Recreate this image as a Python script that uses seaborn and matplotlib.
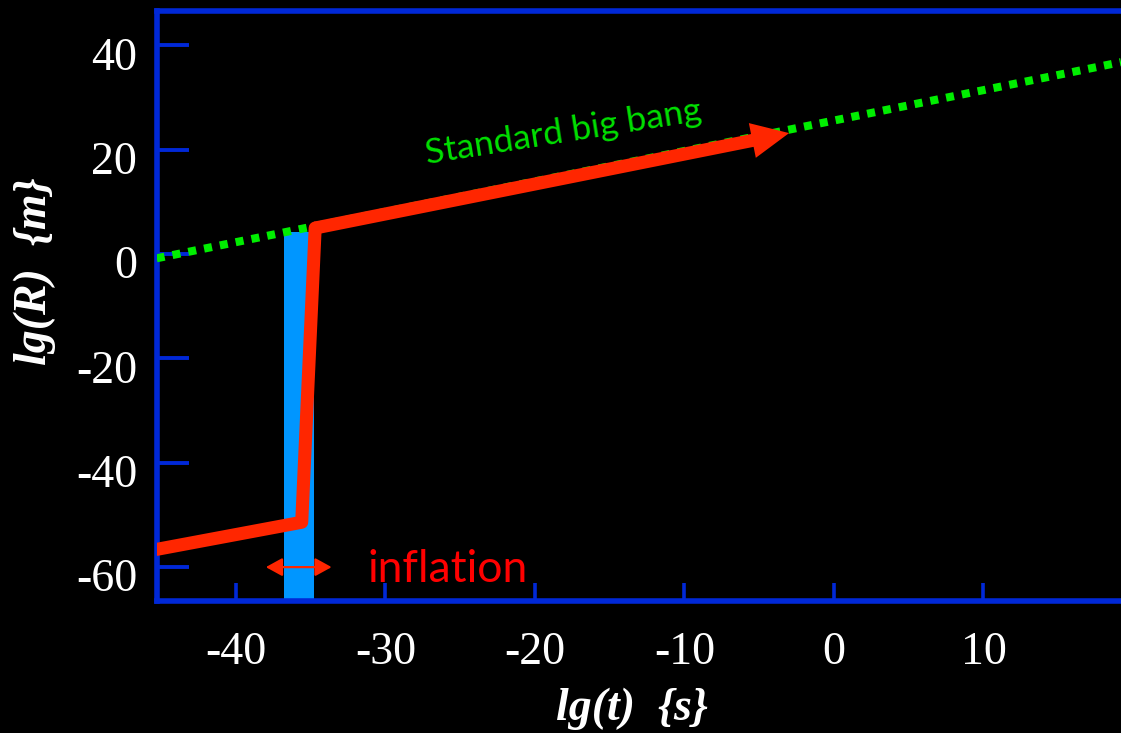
import matplotlib
matplotlib.use("Agg")
import matplotlib.pyplot as plt
import matplotlib.transforms as mtransforms
from matplotlib.patches import ArrowStyle
import seaborn as sns

# ---- data ----
xlim = (-45.3, 19.2)
ylim = (-66.4, 46.7)
x_ticks = [-40, -30, -20, -10, 0, 10]
x_tick_labels = ["-40", "-30", "-20", "-10", "0", "10"]
y_ticks = [-60, -40, -20, 0, 20, 40]
y_tick_labels = ["-60", "-40", "-20", "0", "20", "40"]

# standard big bang (green dotted)
sbb_t = [-45.3, 19.2]
sbb_R = [-0.8, 36.8]

# inflationary path (red)
path_t = [-45.3, -35.6, -34.7]
path_R = [-56.6, -51.4, 5.0]
arrow_tip_t = -3.0
arrow_tip_R = 23.2

# inflation epoch (blue band)
infl_t = [-36.8, -34.8]
infl_top = 4.2

# inflation double arrow
infl_arrow_t = [-38.0, -33.6]
infl_arrow_R = -60.0

# labels
label_sbb = "Standard big bang"
label_sbb_pos = (-18.1, 23.4)
label_infl = "inflation"
label_infl_pos = (-31.2, -62.9)
xlabel = "lg(t)  {s}"
ylabel = "lg(R)  {m}"

# ---- colours ----
BLUE = "#0028D7"
LIGHTBLUE = "#0096FF"
RED = "#FF2600"
GREEN = "#00EE00"
TEXTGREEN = "#00E000"

sns.set_theme(style="dark")
plt.rcParams["axes.unicode_minus"] = False

W, H, DPI = 1121, 733, 100
fig = plt.figure(figsize=(W / DPI, H / DPI), dpi=DPI, facecolor="black")
ax_left = 156.7 / W
ax_bottom = (H - 600.5) / H
ax_top = (H - 10.5) / H
ax = fig.add_axes([ax_left, ax_bottom, 1 - ax_left, ax_top - ax_bottom])
ax.set_facecolor("black")
ax.grid(False)

# blue band
ax.fill_between(infl_t, [ylim[0] - 5] * 2, [infl_top] * 2, color=LIGHTBLUE,
                linewidth=0, zorder=2)

# green dotted line
sns.lineplot(x=sbb_t, y=sbb_R, ax=ax, color=GREEN, linewidth=5.8,
             linestyle=(0, (1, 1)), dash_capstyle="butt", zorder=3)

# red path
sns.lineplot(x=path_t, y=path_R, ax=ax, color=RED, linewidth=9.4, sort=False,
             estimator=None, zorder=4, solid_joinstyle="round",
             solid_capstyle="round")
ax.annotate("", xy=(arrow_tip_t, arrow_tip_R), xytext=(path_t[-1], path_R[-1]),
            arrowprops=dict(arrowstyle=ArrowStyle("simple", head_length=2.7,
                                                  head_width=2.55,
                                                  tail_width=0.94),
                            mutation_scale=10, shrinkA=0, shrinkB=0,
                            color=RED, linewidth=0),
            zorder=4)

# inflation double arrow
ax.annotate("", xy=(infl_arrow_t[1], infl_arrow_R),
            xytext=(infl_arrow_t[0], infl_arrow_R),
            arrowprops=dict(arrowstyle=ArrowStyle("<|-|>", head_length=1.0,
                                                  head_width=0.55),
                            mutation_scale=10, shrinkA=0, shrinkB=0,
                            color=RED, linewidth=1.6),
            zorder=5)

# texts
ax.text(*label_infl_pos, label_infl, color="#FF0000", fontsize=32,
        family="Lato", ha="left", va="baseline", zorder=6)
ax.text(*label_sbb_pos, label_sbb, color=TEXTGREEN, fontsize=25.5,
        family="Lato", ha="center", va="center", rotation=9,
        rotation_mode="anchor", zorder=6)

# axes styling
ax.set_xlim(*xlim)
ax.set_ylim(*ylim)
ax.set_xticks(x_ticks)
ax.set_xticklabels(x_tick_labels)
ax.set_yticks(y_ticks)
ax.set_yticklabels(y_tick_labels)
ax.tick_params(axis="y", direction="in", length=23, width=2.8, color=BLUE,
               pad=14, labelsize=33, labelcolor="white", left=True)
ax.tick_params(axis="x", direction="in", length=13, width=2.6, color=BLUE,
               pad=22, labelsize=33, labelcolor="white", bottom=True)
for lab in ax.get_xticklabels() + ax.get_yticklabels():
    lab.set_family("Liberation Serif")
offset = mtransforms.ScaledTranslation(0, -8 / DPI, fig.dpi_scale_trans)
for lab in ax.get_yticklabels():
    lab.set_transform(lab.get_transform() + offset)

for side in ["left", "bottom", "top"]:
    ax.spines[side].set_visible(True)
    ax.spines[side].set_color(BLUE)
    ax.spines[side].set_linewidth(4)
    ax.spines[side].set_capstyle("projecting")
ax.spines["right"].set_visible(False)

ax.set_xlabel(xlabel, family="Liberation Serif", style="italic",
              weight="bold", fontsize=33, color="white", va="top")
ax.xaxis.set_label_coords((632 - 156.7) / (W - 156.7), (600.5 - 688) / 590)
ax.set_ylabel(ylabel, family="Liberation Serif", style="italic",
              weight="bold", fontsize=33, color="white")
ax.yaxis.set_label_coords((56 - 156.7) / (W - 156.7), (600.5 - 271) / 590)

fig.savefig("out.png", dpi=DPI, facecolor="black")
